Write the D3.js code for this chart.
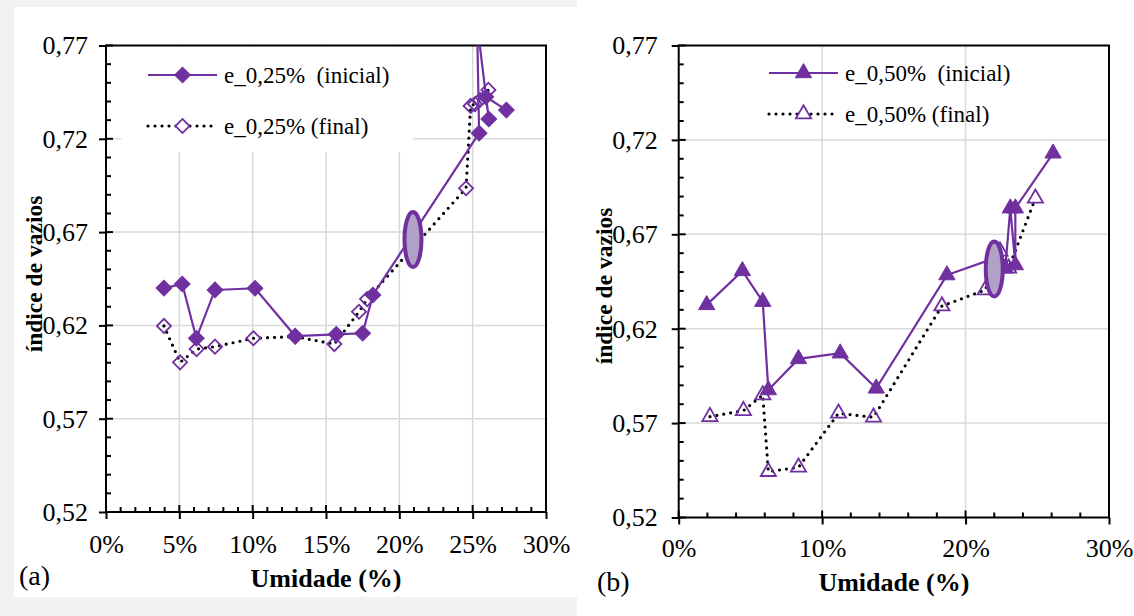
<!DOCTYPE html>
<html><head><meta charset="utf-8">
<script src="https://cdn.jsdelivr.net/npm/d3@7"></script>
<style>
html,body{margin:0;padding:0;background:#fff;}
svg text{font-family:"Liberation Serif","Times New Roman",serif;fill:#000;}
</style></head>
<body>
<svg id="c" width="1134" height="616"></svg>
<script>
// ---- data ----
const xTicksA = [0,5,10,15,20,25,30];
const xTicksB = [0,10,20,30];
const yTicks = [0.52,0.57,0.62,0.67,0.72,0.77];

// panel (a): e_0,25%
const a_ini_x = [3.95,5.2,6.16,7.43,10.16,12.9,15.7,17.5,18.2,25.44,25.3,26.1,25.9,27.3];
const a_ini_y = [0.640,0.6422,0.6131,0.639,0.6399,0.6143,0.6152,0.6158,0.6363,0.723,0.782,0.7306,0.7425,0.7354];
const a_fin_x = [3.95,5.05,6.18,7.43,10.05,12.9,15.57,17.25,17.8,24.55,24.86,25.16,25.5,26.07];
const a_fin_y = [0.6197,0.6002,0.6073,0.6086,0.6131,0.614,0.610,0.6273,0.6341,0.6935,0.7376,0.7386,0.7408,0.7462];
const a_ellipse = [20.93,0.666];

// panel (b): e_0,50%
const b_ini_x = [1.95,4.44,5.86,6.25,8.35,11.26,13.77,18.7,21.9,22.77,23.12,23.47,23.47,26.1];
const b_ini_y = [0.6326,0.6506,0.6343,0.5875,0.604,0.607,0.5884,0.6484,0.657,0.652,0.6838,0.6537,0.6838,0.7129];
const b_fin_x = [2.18,4.51,5.86,6.25,8.35,11.14,13.58,18.35,21.37,22.4,23.0,24.87];
const b_fin_y = [0.5734,0.5766,0.5849,0.5443,0.5466,0.5752,0.5731,0.632,0.6405,0.661,0.652,0.6891];
const b_ellipse = [22.0,0.6516];

const labelsA = ["e_0,25%  (inicial)","e_0,25% (final)"];
const labelsB = ["e_0,50%  (inicial)","e_0,50% (final)"];

const PURPLE = "#7030A0";
const FONT = "'Liberation Serif','Times New Roman',serif";
const svg = d3.select("#c");

// background frame (panel a has a grey border)
svg.append("rect").attr("x",0).attr("y",0).attr("width",577).attr("height",616).attr("fill","#f2f2f2");
svg.append("rect").attr("x",14).attr("y",7).attr("width",1120).attr("height",590).attr("fill","#fff");
svg.append("rect").attr("x",577).attr("y",0).attr("width",557).attr("height",616).attr("fill","#fff");

const fmtY = d => d3.format(".2f")(d).replace(".",",");
const fmtX = d => d + "%";

function panel(cfg){
  const x = d3.scaleLinear().domain([0,30]).range([cfg.x0,cfg.x1]);
  const y = d3.scaleLinear().domain([0.52,0.77]).range([cfg.y1,cfg.y0]);
  const g = svg.append("g");
  const id = "clip"+cfg.key;
  svg.append("defs").append("clipPath").attr("id",id).append("rect")
    .attr("x",cfg.x0).attr("y",cfg.y0).attr("width",cfg.x1-cfg.x0).attr("height",cfg.y1-cfg.y0);

  // grid
  const grid = g.append("g").attr("stroke","#d9d9d9").attr("stroke-width",1.5);
  cfg.xTicks.filter(v=>v>0&&v<30).forEach(v=>grid.append("line").attr("x1",x(v)).attr("x2",x(v)).attr("y1",cfg.y0).attr("y2",cfg.y1));
  yTicks.filter(v=>v>0.52&&v<0.77).forEach(v=>grid.append("line").attr("x1",cfg.x0).attr("x2",cfg.x1).attr("y1",y(v)).attr("y2",y(v)));

  if(cfg.legendBox){
    g.append("rect").attr("x",cfg.legendBox[0]).attr("y",cfg.legendBox[1]).attr("width",cfg.legendBox[2]).attr("height",cfg.legendBox[3]).attr("fill","#fff");
  }

  // frame
  g.append("rect").attr("x",cfg.x0).attr("y",cfg.y0).attr("width",cfg.x1-cfg.x0).attr("height",cfg.y1-cfg.y0)
    .attr("fill","none").attr("stroke","#000").attr("stroke-width",2);

  // axes (labels + outward major ticks)
  const ax = g.append("g").attr("transform",`translate(${cfg.x0},0)`)
    .call(d3.axisLeft(y).tickValues(yTicks).tickFormat(fmtY).tickSize(7).tickPadding(cfg.yPad));
  ax.select(".domain").remove();
  ax.attr("font-family",null).attr("font-size",null);
  ax.selectAll("line").attr("stroke","#000").attr("stroke-width",2);
  ax.selectAll("text").style("font-size","26px").style("font-family",FONT);
  const bx = g.append("g").attr("transform",`translate(0,${cfg.y1})`)
    .call(d3.axisBottom(x).tickValues(cfg.xTicks).tickFormat(fmtX).tickSize(7).tickPadding(cfg.xPad));
  bx.select(".domain").remove();
  bx.attr("font-family",null).attr("font-size",null);
  bx.selectAll("line").attr("stroke","#000").attr("stroke-width",2);
  bx.selectAll("text").style("font-size","26px").style("font-family",FONT);

  // inward ticks
  const tk = g.append("g").attr("stroke","#000").attr("stroke-width",2);
  d3.range(0.52,0.7701,0.01).forEach(v=>{
    const major = yTicks.some(t=>Math.abs(t-v)<1e-6);
    tk.append("line").attr("x1",cfg.x0).attr("x2",cfg.x0+(major?7:5)).attr("y1",y(v)).attr("y2",y(v));
  });
  d3.range(0,30.001,cfg.minorX).forEach(v=>{
    const major = cfg.xTicks.some(t=>Math.abs(t-v)<1e-6);
    tk.append("line").attr("y1",cfg.y1).attr("y2",cfg.y1-(major?7:5)).attr("x1",x(v)).attr("x2",x(v));
  });

  // titles
  g.append("text").attr("transform",`translate(${cfg.yTitleX},${cfg.yTitleY}) rotate(-90)`)
    .attr("text-anchor","middle").attr("dy","0.35em").style("font-family",FONT).style("font-size","23.5px").style("font-weight","bold").text("índice de vazios");
  g.append("text").attr("x",(cfg.x0+cfg.x1)/2).attr("y",cfg.xTitleY).attr("text-anchor","middle")
    .style("font-family",FONT).style("font-size","26px").style("font-weight","bold").text("Umidade (%)");
  g.append("text").attr("x",cfg.tagX).attr("y",cfg.tagY).style("font-family",FONT).style("font-size","28px").text(cfg.tag);

  // data
  const dg = g.append("g").attr("clip-path",`url(#${id})`);
  const ini = cfg.iniX.map((v,i)=>[v,cfg.iniY[i]]);
  const fin = cfg.finX.map((v,i)=>[v,cfg.finY[i]]);
  const line = d3.line().x(d=>x(d[0])).y(d=>y(d[1]));
  dg.append("path").attr("d",line(fin)).attr("fill","none").attr("stroke","#000").attr("stroke-width",3.2)
    .attr("stroke-linecap","round").attr("stroke-dasharray","0 7");
  dg.append("path").attr("d",line(ini)).attr("fill","none").attr("stroke",PURPLE).attr("stroke-width",2.2);

  const marker = (sel, filled) => {
    if(cfg.shape==="diamond"){
      return sel.append("path").attr("d",d3.symbol(d3.symbolSquare, filled?124:100)())
        .attr("fill",filled?PURPLE:"none").attr("stroke",PURPLE).attr("stroke-width",filled?1:1.8);
    }
    return sel.append("path").attr("d",d3.symbol(d3.symbolTriangle, filled?115:100)())
      .attr("fill",filled?PURPLE:"none").attr("stroke",PURPLE).attr("stroke-width",filled?1:1.8);
  };
  const rot = cfg.shape==="diamond" ? " rotate(45)" : "";
  const mk = (pts, filled) => {
    pts.forEach(p=>{
      marker(dg, filled).attr("transform",`translate(${x(p[0])},${y(p[1])})`+rot);
    });
  };
  mk(fin,false);
  mk(ini,true);

  // ellipse annotation
  dg.append("ellipse").attr("cx",x(cfg.ell[0])).attr("cy",y(cfg.ell[1])).attr("rx",8.5).attr("ry",27.5)
    .attr("fill","#b2a1c7").attr("stroke",PURPLE).attr("stroke-width",4);

  // legend
  const L = cfg.leg;
  const lg = g.append("g");
  [0,1].forEach(i=>{
    const ly = L.y[i];
    const ln = lg.append("line").attr("x1",L.x1).attr("x2",L.x2).attr("y1",ly).attr("y2",ly);
    if(i===0) ln.attr("stroke",PURPLE).attr("stroke-width",2.2);
    else ln.attr("stroke","#000").attr("stroke-width",3.2).attr("stroke-linecap","round").attr("stroke-dasharray","0 7");
    const cx = (L.x1+L.x2)/2;
    const mkr = marker(lg, i===0).attr("transform",`translate(${cx},${ly})`+rot);
    if(i===1) mkr.attr("fill","#fff");
    lg.append("text").attr("x",L.tx).attr("y",ly).attr("dy","0.35em").style("font-family",FONT).style("font-size","23px")
      .style("white-space","pre").attr("xml:space","preserve").text(cfg.labels[i]);
  });
}

panel({key:"a", x0:106, x1:546, y0:45.5, y1:512, xTicks:xTicksA, minorX:1, yPad:11, xPad:16,
  iniX:a_ini_x, iniY:a_ini_y, finX:a_fin_x, finY:a_fin_y, ell:a_ellipse, shape:"diamond",
  yTitleX:34, yTitleY:274, xTitleY:587, tag:"(a)", tagX:19, tagY:585,
  legendBox:[121,47,292,105],
  leg:{x1:148,x2:217,y:[75,126],tx:224}, labels:labelsA});

panel({key:"b", x0:678.7, x1:1109, y0:45.5, y1:517.5, xTicks:xTicksB, minorX:2, yPad:14, xPad:14.5,
  iniX:b_ini_x, iniY:b_ini_y, finX:b_fin_x, finY:b_fin_y, ell:b_ellipse, shape:"triangle",
  yTitleX:604, yTitleY:286, xTitleY:591, tag:"(b)", tagX:597, tagY:591,
  legendBox:null,
  leg:{x1:769,x2:838,y:[73,114],tx:845}, labels:labelsB});
</script>
</body></html>
